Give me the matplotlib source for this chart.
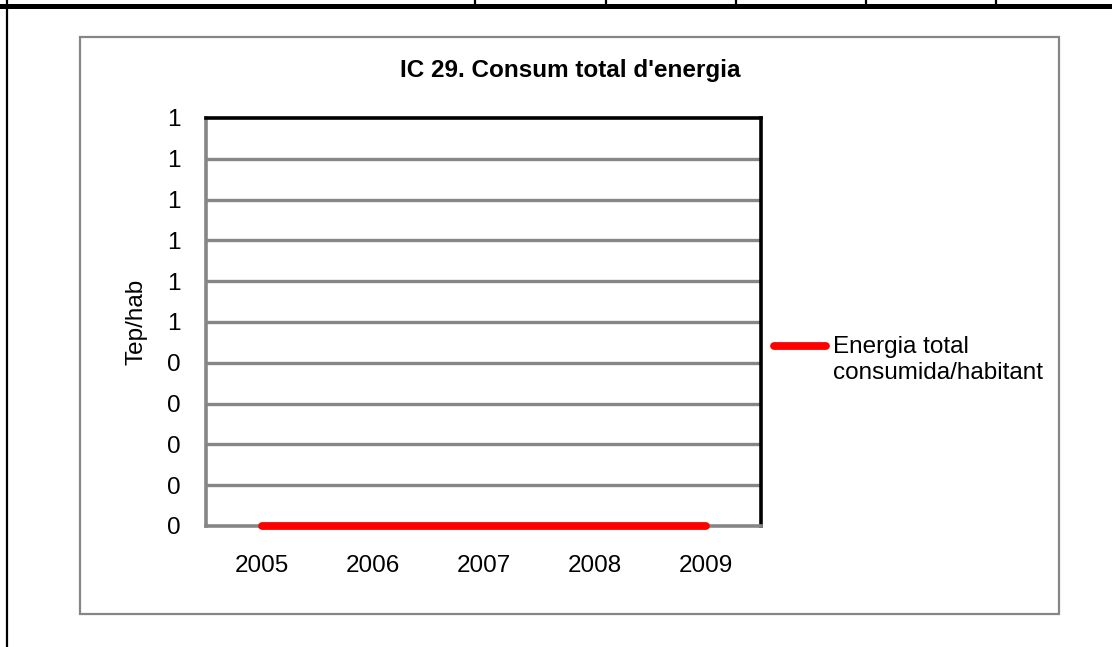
import math
import matplotlib
matplotlib.use("Agg")
import matplotlib.pyplot as plt
from matplotlib.lines import Line2D
from matplotlib.patches import Rectangle
from matplotlib.ticker import FixedLocator, FuncFormatter

plt.rcParams["font.family"] = ["Liberation Sans", "DejaVu Sans"]

# Data
years = ["2005", "2006", "2007", "2008", "2009"]
energy_per_inhabitant = [0, 0, 0, 0, 0]
series_name = "Energia total\nconsumida/habitant"
y_ticks = [0.0, 0.1, 0.2, 0.3, 0.4, 0.5, 0.6, 0.7, 0.8, 0.9, 1.0]
title = "IC 29. Consum total d'energia"
y_label = "Tep/hab"

W, H = 1112, 647
DPI = 100
fig = plt.figure(figsize=(W / DPI, H / DPI), dpi=DPI)
fig.patch.set_facecolor("white")

GRAY = "#868686"
FS = 17.5


def fx(px):
    return px / W


def fy(py):
    return 1 - py / H


# Surrounding table cell borders
fig.add_artist(Line2D([0, 1], [fy(5.5), fy(5.5)], color="black", lw=3.6))
fig.add_artist(Line2D([fx(7), fx(7)], [0, 1], color="black", lw=1.6))
for xp in [475, 606, 736, 866, 996]:
    fig.add_artist(Line2D([fx(xp), fx(xp)], [fy(0), fy(4)], color="black", lw=1.6))

# Chart frame
fig.add_artist(Rectangle((fx(80), fy(614)), fx(1059) - fx(80), fy(37) - fy(614),
                         transform=fig.transFigure, fill=False,
                         edgecolor=GRAY, lw=1.6))

# Plot area
left, right, top, bottom = 206, 761, 118, 526
ax = fig.add_axes([fx(left), fy(bottom), fx(right) - fx(left), fy(top) - fy(bottom)])
x = list(range(len(years)))
ax.plot(x, energy_per_inhabitant, color="#ff0000", lw=5.6,
        solid_capstyle="round", zorder=5, clip_on=False)

ax.set_xlim(-0.5, len(years) - 0.5)
ax.set_ylim(y_ticks[0], y_ticks[-1])
ax.set_xticks(x)
ax.set_xticklabels(years, fontsize=FS)
ax.yaxis.set_major_locator(FixedLocator(y_ticks))
ax.yaxis.set_major_formatter(FuncFormatter(lambda v, p: str(int(math.floor(v + 0.5 + 1e-9)))))
ax.tick_params(axis="both", length=0, labelsize=FS)
ax.tick_params(axis="y", pad=18)
ax.tick_params(axis="x", pad=21)
for v in y_ticks[1:-1]:
    ax.axhline(v, color=GRAY, lw=2.4, zorder=1)

ax.spines["top"].set_color("black")
ax.spines["right"].set_color("black")
ax.spines["left"].set_color(GRAY)
ax.spines["bottom"].set_color(GRAY)
for s in ax.spines.values():
    s.set_linewidth(2.6)
    s.set_capstyle("projecting")

ax.set_ylabel(y_label, fontsize=FS, labelpad=14)

fig.text(fx(570), fy(71), title, fontsize=FS, fontweight="bold",
         ha="center", va="center")

# Legend
fig.add_artist(Line2D([fx(774), fx(826)], [fy(346), fy(346)], color="#ff0000",
                      lw=5.6, solid_capstyle="round"))
fig.text(fx(833), fy(336), series_name, fontsize=FS, ha="left", va="top",
         linespacing=1.25)

fig.savefig("out.png", dpi=DPI, facecolor="white")
